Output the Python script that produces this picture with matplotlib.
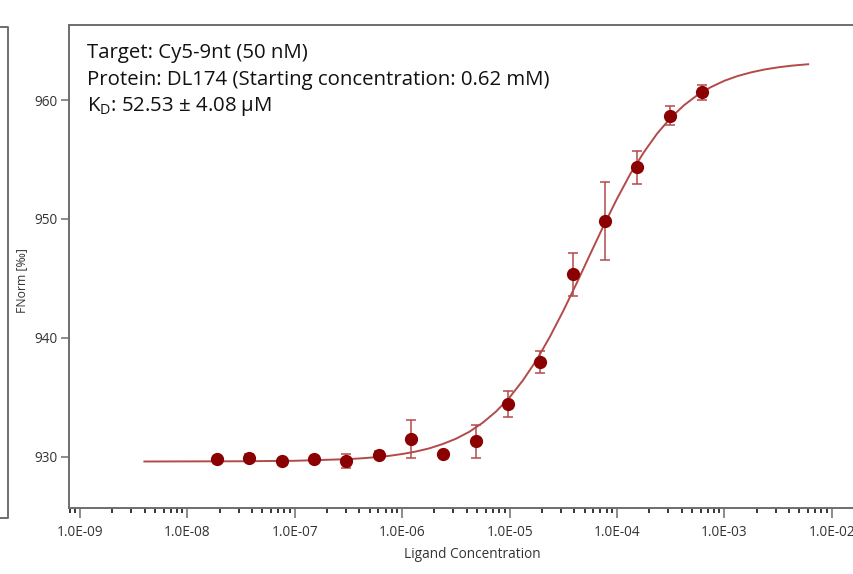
import numpy as np
import matplotlib
matplotlib.use("Agg")
import matplotlib.pyplot as plt
from matplotlib.ticker import FuncFormatter, FixedLocator, LogLocator
from matplotlib.lines import Line2D

plt.rcParams['font.family'] = ['Open Sans', 'DejaVu Sans']

# ---- measured points (ligand concentration in M, FNorm in permil) ----
conc = [1.89e-8, 3.78e-8, 7.57e-8, 1.51e-7, 3.03e-7, 6.05e-7, 1.21e-6, 2.42e-6,
        4.84e-6, 9.69e-6, 1.94e-5, 3.875e-5, 7.75e-5, 1.55e-4, 3.1e-4, 6.2e-4]
fnorm = [929.81, 929.92, 929.64, 929.81, 929.66, 930.17, 931.49, 930.25,
         931.29, 934.44, 937.98, 945.33, 949.83, 954.33, 958.68, 960.65]
ferr = [0.05, 0.3, 0.05, 0.05, 0.6, 0.3, 1.6, 0.0,
        1.38, 1.1, 0.93, 1.77, 3.25, 1.37, 0.79, 0.63]

# ---- fit curve ----
fit_conc = [3.98e-9, 1e-8, 3.16e-8, 1e-7, 3.16e-7, 4.22e-7, 5.62e-7, 7.5e-7,
            1e-6, 1.33e-6, 1.78e-6, 2.37e-6, 3.16e-6, 4.22e-6, 5.62e-6, 7.5e-6,
            1e-5, 1.33e-5, 1.78e-5, 2.37e-5, 3.16e-5, 4.22e-5, 5.62e-5, 7.5e-5,
            1e-4, 1.33e-4, 1.78e-4, 2.37e-4, 3.16e-4, 4.22e-4, 5.62e-4, 7.5e-4,
            1e-3, 1.33e-3, 1.78e-3, 2.37e-3, 3.16e-3, 4.22e-3, 6.03e-3]
fit_fnorm = [929.60, 929.61, 929.62, 929.66, 929.80, 929.87, 929.96, 930.07,
             930.23, 930.43, 930.70, 931.06, 931.51, 932.10, 932.86, 933.81,
             934.99, 936.42, 938.12, 940.08, 942.26, 944.61, 947.02, 949.42,
             951.69, 953.78, 955.61, 957.19, 958.50, 959.57, 960.42, 961.09,
             961.62, 962.02, 962.33, 962.57, 962.75, 962.89, 963.01]

xticks = [1e-9, 1e-8, 1e-7, 1e-6, 1e-5, 1e-4, 1e-3, 1e-2]
xticklabels = ["1.0E-09", "1.0E-08", "1.0E-07", "1.0E-06",
               "1.0E-05", "1.0E-04", "1.0E-03", "1.0E-02"]
yticks = [930, 940, 950, 960]

info = ["Target: Cy5-9nt (50 nM)",
        "Protein: DL174 (Starting concentration: 0.62 mM)",
        "K$_{\\mathregular{D}}$: 52.53 \u00b1 4.08 \u00b5M"]

W, H = 854, 574
fig = plt.figure(figsize=(W / 100, H / 100), dpi=100)
ax = fig.add_axes([69 / W, (H - 508) / H, 795 / W, 483 / H])

dark = "#8b0000"
light = "#b34a4a"
ax.plot(fit_conc, fit_fnorm, color=light, lw=1.4, zorder=2)
ax.errorbar(conc, fnorm, yerr=ferr, fmt="o", color=dark, ms=8.5,
            ecolor=light, elinewidth=1.1, capsize=3.8, capthick=1.1, zorder=3)

ax.set_xscale("log")
ax.set_xlim(10 ** -9.102, 10 ** -1.70)
ax.set_ylim(925.69, 966.31)
ax.set_yticks(yticks)
ax.xaxis.set_major_locator(FixedLocator(xticks))
ax.xaxis.set_minor_locator(LogLocator(base=10, subs=np.arange(2, 10), numticks=20))
ax.xaxis.set_major_formatter(FuncFormatter(
    lambda v, p: xticklabels[xticks.index(v)] if v in xticks else ""))

gray = "#6e6e6e"
for s in ax.spines.values():
    s.set_color(gray)
    s.set_linewidth(1.4)
ax.tick_params(axis="both", colors=gray, labelcolor="#333333", labelsize=9.8, width=1.1)
ax.tick_params(axis="x", which="major", length=7.2, pad=5)
ax.tick_params(axis="x", which="minor", length=3.6, width=1.1)
ax.tick_params(axis="y", which="major", length=5.5, pad=3)

ax.set_xlabel("Ligand Concentration", fontsize=9.8, color="#333333")
ax.set_ylabel("FNorm [\u2030]", fontsize=8.8, color="#333333")
ax.xaxis.set_label_coords(0.507, -0.08)
ax.yaxis.set_label_coords(-0.051, 0.47)

for i, t in enumerate(info):
    fig.text(87 / W, 1 - (53 + i * 27) / H, t, fontsize=14.7, color="#111111",
             ha="left", va="center")

# edge of the neighbouring panel on the left
fig.add_artist(Line2D([0, 8 / W, 8 / W, 0], [1 - 27 / H, 1 - 27 / H, 1 - 518 / H, 1 - 518 / H],
                      color=gray, lw=1.4))

fig.savefig("out.png", dpi=100)
